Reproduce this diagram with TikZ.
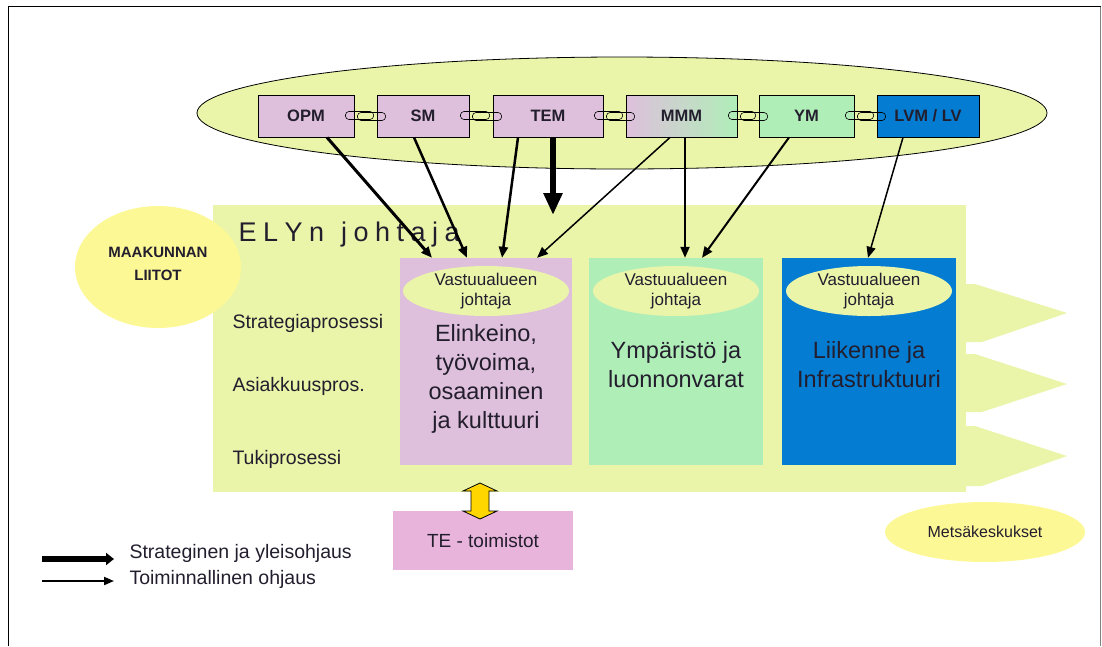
\documentclass[tikz,border=0pt]{standalone}
\usepackage{fontspec}
\setmainfont{Liberation Sans}
\usetikzlibrary{shapes.geometric,arrows.meta,calc}
\definecolor{elygreen}{RGB}{234,245,170}
\definecolor{lilac}{RGB}{222,192,220}
\definecolor{mint}{RGB}{176,238,184}
\definecolor{lvblue}{RGB}{4,124,210}
\definecolor{paleyellow}{RGB}{252,248,150}
\definecolor{tepink}{RGB}{232,180,220}
\definecolor{gold}{RGB}{255,214,0}
\definecolor{txt}{RGB}{35,30,45}
\newcommand\fsz[2]{\fontsize{#1}{#2}\selectfont}
\newcommand\lsp{\hspace{6.5pt}}
\tikzset{
  ministry/.style={draw, line width=0.9pt, minimum height=42pt, inner sep=0pt, font=\fsz{16.5}{20}\bfseries, text=txt},
  column/.style={minimum height=207pt, inner sep=0pt},
  vjell/.style={ellipse, fill=elygreen, minimum width=166pt, minimum height=50pt, inner sep=0pt},
  vjtext/.style={font=\fsz{17}{20}, align=center, text=txt},
  coltext/.style={font=\fsz{23.5}{29}, align=center, text=txt},
  proc/.style={anchor=base west, font=\fsz{19.5}{22}, text=txt},
  arr/.style={-{Triangle[length=11pt,width=9pt]}},
  chev/.style={fill=elygreen},
  linkpill/.style={draw, line width=0.6pt, rounded corners=3.5pt}
}
\begin{document}
\begin{tikzpicture}[x=1pt,y=-1pt]
\useasboundingbox (0,0) rectangle (1102,646);
% frame
\draw[line width=1.5pt] (8.5,646) -- (8.5,6.5) -- (1100.5,6.5);
\draw[gray, line width=1pt] (1100.5,6.5) -- (1100.5,646);

% ministries ellipse
\node[ellipse, draw, fill=elygreen, line width=0.8pt, minimum width=850pt, minimum height=112pt, inner sep=0pt] (minell) at (622,113) {};
\node[ministry, fill=lilac, minimum width=96pt] (opm) at (306,116) {OPM};
\node[ministry, fill=lilac, minimum width=92pt] (sm) at (423,116) {SM};
\node[ministry, fill=lilac, minimum width=110pt] (tem) at (548,116) {TEM};
\node[ministry, left color=lilac, right color=mint, minimum width=111pt] (mmm) at (681.5,116) {MMM};
\node[ministry, fill=mint, minimum width=95pt] (ym) at (806.5,116) {YM};
\node[ministry, fill=lvblue, minimum width=102pt] (lvm) at (928,116) {LVM / LV};
\foreach \a/\b in {opm/sm, sm/tem, tem/mmm, mmm/ym, ym/lvm}{
  \draw[linkpill] ($(\a.east)+(-9,-4.5)$) rectangle ($(\b.west)+(-3,3.5)$);
  \draw[linkpill] ($(\a.east)+(3,-3.5)$) rectangle ($(\b.west)+(9,4.5)$);
}

% ELY area
\node[fill=elygreen, minimum width=753pt, minimum height=287pt, inner sep=0pt] (ely) at (589.5,348.5) {};
\fill[chev] (966,284) -- (975,284) -- (1067,313) -- (982,342) -- (966,342) -- cycle;
\fill[chev] (966,354) -- (975,354) -- (1067,384) -- (982,412) -- (966,412) -- cycle;
\fill[chev] (966,426) -- (975,426) -- (1067,456) -- (982,486) -- (966,486) -- cycle;
\node[anchor=west, font=\fsz{27}{30}, text=txt] (elytitle) at (235,235) {E\lsp L\lsp Y\lsp n\hspace{17pt}j\lsp o\lsp h\lsp t\lsp a\lsp j\lsp a};

\node[proc] (p1) at (229,328) {Strategiaprosessi};
\node[proc] (p2) at (229,391) {Asiakkuuspros.};
\node[proc] (p3) at (229,464) {Tukiprosessi};

% columns
\node[column, fill=lilac, minimum width=172pt] (elin) at (486,361.5) {};
\node[column, fill=mint, minimum width=174pt] (ymp) at (676,361.5) {};
\node[column, fill=lvblue, minimum width=174pt] (lii) at (869,361.5) {};
\node[vjell] (v1) at (486,291) {};
\node[vjell] (v2) at (676,291) {};
\node[vjell] (v3) at (869,291) {};
\node[vjtext] (v1t) at (v1) {Vastuualueen\\johtaja};
\node[vjtext] (v2t) at (v2) {Vastuualueen\\johtaja};
\node[vjtext] (v3t) at (v3) {Vastuualueen\\johtaja};
\node[coltext] (c1) at (486,379) {Elinkeino,\\työvoima,\\osaaminen\\ja kulttuuri};
\node[coltext] (c2) at (676,365) {Ympäristö ja\\luonnonvarat};
\node[coltext] (c3) at (869,365) {Liikenne ja\\Infrastruktuuri};

% maakunnan liitot
\node[ellipse, fill=paleyellow, minimum width=166pt, minimum height=122pt, inner sep=0pt] (maak) at (158,267) {};
\node[font=\fsz{15}{23}\bfseries, align=center, text=txt] (maakt) at (158,264) {MAAKUNNAN\\LIITOT};

% metsakeskukset
\node[ellipse, fill=paleyellow, minimum width=200pt, minimum height=60pt, inner sep=0pt] (metsa) at (985,532) {};
\node[font=\fsz{16}{19}, text=txt] (metsat) at (metsa) {Metsäkeskukset};

% TE toimistot
\node[fill=tepink, minimum width=180pt, minimum height=59pt, inner sep=0pt, font=\fsz{19}{22}, text=txt] (te) at (483,540.5) {TE - toimistot};
\filldraw[fill=gold, draw=black, line width=0.8pt] (480,483) -- (497,491) -- (489,491) -- (489,511) -- (497,511) -- (480,519) -- (463,511) -- (471,511) -- (471,491) -- (463,491) -- cycle;

% arrows
\draw[arr, line width=3pt] ([xshift=21pt]opm.south) -- ([xshift=-54pt]elin.north);
\draw[arr, line width=2.5pt] ([xshift=-9pt]sm.south) -- ([xshift=-19pt]elin.north);
\draw[arr, line width=2.5pt] ([xshift=-30pt]tem.south) -- ([xshift=16pt]elin.north);
\draw[arr, line width=1.5pt] ([xshift=-11.5pt]mmm.south) -- ([xshift=51pt]elin.north);
\draw[arr, line width=2pt] ([xshift=3.5pt]mmm.south) -- ([xshift=9pt]ymp.north);
\draw[arr, line width=2pt] ([xshift=-17.5pt]ym.south) -- ([xshift=26pt]ymp.north);
\draw[arr, line width=1.5pt] ([xshift=-25pt]lvm.south) -- ([xshift=-1pt]lii.north);
\coordinate (temtip) at (553,215);
\draw[-{Triangle[length=22pt,width=18pt]}, line width=6pt] ([xshift=5pt]tem.south) -- (temtip);

% legend
\coordinate (l1a) at (42,559);
\coordinate (l1b) at (114,559);
\coordinate (l2a) at (42,581);
\coordinate (l2b) at (114,581);
\draw[line width=6pt, -{Triangle[length=8pt,width=12pt]}] (l1a) -- (l1b);
\draw[line width=2pt, -{Triangle[length=10pt,width=8pt]}] (l2a) -- (l2b);
\node[anchor=west, font=\fsz{19.5}{22}, text=txt] (lg1) at (126,553) {Strateginen ja yleisohjaus};
\node[anchor=west, font=\fsz{19.5}{22}, text=txt] (lg2) at (126,579) {Toiminnallinen ohjaus};
\end{tikzpicture}
\end{document}
